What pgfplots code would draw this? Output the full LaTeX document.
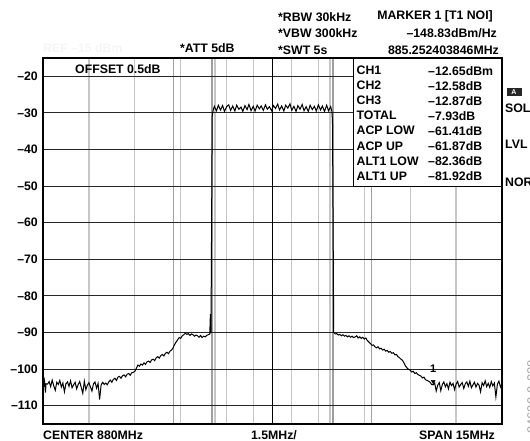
\documentclass[border=0pt]{standalone}
\usepackage{pgfplots}
\pgfplotsset{compat=1.18}
\usepackage{fontspec}
\setmainfont{Liberation Sans}
\begin{document}
\begin{tikzpicture}[x=1pt,y=1pt,every node/.append style={font=\bfseries\fontsize{12.3}{14}\selectfont,inner sep=0pt}]
\useasboundingbox (0pt,0pt) rectangle (530pt,441pt);
\begin{axis}[at={(43pt,17pt)}, anchor=south west, scale only axis,
  width=459pt, height=366pt,
  xmin=-7.5, xmax=7.5, ymin=-115, ymax=-15,
  axis line style={line width=2pt},
  xtick=\empty,
  ytick={-110,-100,-90,-80,-70,-60,-50,-40,-30,-20},
  yticklabels={–110,–100,–90,–80,–70,–60,–50,–40,–30,–20},
  yticklabel style={font=\bfseries\fontsize{12.3}{14}\selectfont,inner sep=0pt,xshift=-5pt},
  major tick length=0pt,
  axis on top, clip=true]
% vertical channel / grid lines
\foreach \v in {-6,-4.5,-3,-1.5,1.5,3,4.5,6,-0.61,0.61,-1.88,1.88}
  {\edef\tmp{\noexpand\draw[gray!45,line width=1.3pt] (axis cs:\v,-115) -- (axis cs:\v,-15);}\tmp}
\foreach \v in {-1.98,1.98,-3.23,3.23}
  {\edef\tmp{\noexpand\draw[gray!75,line width=1.3pt] (axis cs:\v,-115) -- (axis cs:\v,-15);}\tmp}
% horizontal grid
\foreach \h in {-110,-100,-90,-80,-70,-60,-50,-40,-30,-20}
  {\edef\tmp{\noexpand\draw[black!85,line width=1.1pt] (axis cs:-7.5,\h) -- (axis cs:7.5,\h);}\tmp}
\draw[black,line width=1.4pt] (axis cs:0,-115) -- (axis cs:0,-15);
\addplot[black, line width=1pt, mark=none] table {
x y
-7.50 -105.5
-7.45 -103.2
-7.42 -106.4
-7.40 -104.0
-7.35 -104.1
-7.30 -103.4
-7.25 -104.8
-7.20 -103.0
-7.15 -104.5
-7.10 -105.8
-7.05 -103.6
-7.00 -104.2
-6.95 -103.1
-6.90 -104.9
-6.85 -103.8
-6.80 -106.2
-6.75 -104.0
-6.70 -103.5
-6.65 -104.7
-6.60 -103.2
-6.55 -105.1
-6.50 -104.3
-6.45 -103.6
-6.40 -105.4
-6.35 -104.2
-6.30 -103.4
-6.25 -105.0
-6.20 -106.6
-6.15 -103.3
-6.10 -105.6
-6.05 -104.4
-6.00 -103.7
-5.95 -104.9
-5.90 -106.0
-5.85 -104.0
-5.80 -103.5
-5.75 -105.2
-5.70 -103.9
-5.65 -108.3
-5.60 -104.3
-5.55 -103.6
-5.50 -104.2
-5.45 -103.8
-5.40 -104.3
-5.35 -103.5
-5.30 -103.0
-5.25 -103.6
-5.20 -102.8
-5.15 -102.5
-5.10 -103.1
-5.05 -102.2
-5.00 -102.0
-4.95 -102.5
-4.90 -101.8
-4.85 -101.6
-4.80 -102.1
-4.75 -101.4
-4.70 -101.2
-4.65 -101.7
-4.60 -101.0
-4.55 -100.9
-4.50 -100.6
-4.45 -99.8
-4.40 -98.9
-4.35 -99.2
-4.30 -98.6
-4.25 -98.9
-4.20 -98.3
-4.15 -98.7
-4.10 -98.0
-4.05 -97.8
-4.00 -98.2
-3.95 -97.5
-3.90 -97.3
-3.85 -97.7
-3.80 -96.9
-3.75 -96.6
-3.70 -97.0
-3.65 -96.3
-3.60 -96.0
-3.55 -96.4
-3.50 -95.7
-3.45 -95.4
-3.40 -95.8
-3.35 -95.1
-3.30 -94.8
-3.25 -94.2
-3.20 -93.3
-3.15 -92.6
-3.10 -92.0
-3.05 -91.4
-3.00 -91.6
-2.95 -90.9
-2.90 -90.6
-2.85 -90.2
-2.80 -90.5
-2.75 -90.3
-2.70 -90.8
-2.65 -90.4
-2.60 -90.6
-2.55 -91.0
-2.50 -90.7
-2.45 -90.9
-2.40 -91.3
-2.35 -90.8
-2.30 -91.4
-2.25 -91.0
-2.20 -91.2
-2.15 -90.8
-2.10 -90.6
-2.05 -90.4
-2.03 -85.0
-2.01 -90.2
-1.99 -60.0
-1.97 -31.0
-1.94 -29.3
-1.90 -28.2
-1.83 -29.4
-1.77 -27.9
-1.70 -29.2
-1.63 -28.0
-1.57 -29.6
-1.50 -28.3
-1.43 -27.8
-1.37 -29.3
-1.30 -28.1
-1.23 -29.5
-1.17 -27.9
-1.10 -29.0
-1.03 -28.4
-0.97 -29.6
-0.90 -28.0
-0.83 -29.1
-0.77 -27.7
-0.70 -29.4
-0.63 -28.2
-0.57 -29.5
-0.50 -27.9
-0.43 -28.9
-0.37 -28.1
-0.30 -29.3
-0.23 -27.8
-0.17 -29.0
-0.10 -28.3
-0.03 -29.4
0.03 -28.0
0.10 -28.8
0.17 -27.6
0.23 -29.2
0.30 -28.1
0.37 -29.5
0.43 -27.9
0.50 -28.7
0.57 -27.5
0.63 -29.3
0.70 -28.2
0.77 -29.6
0.83 -28.0
0.90 -29.0
0.97 -27.7
1.03 -29.4
1.10 -28.3
1.17 -29.6
1.23 -27.9
1.30 -29.1
1.37 -28.2
1.43 -29.5
1.50 -27.8
1.57 -29.2
1.63 -28.1
1.70 -29.6
1.77 -27.9
1.83 -29.4
1.90 -28.3
1.94 -29.5
1.96 -32.0
1.98 -60.0
2.00 -90.0
2.05 -90.4
2.10 -90.3
2.15 -90.7
2.20 -90.5
2.25 -90.9
2.30 -90.6
2.35 -91.0
2.40 -90.8
2.45 -91.2
2.50 -90.9
2.55 -91.3
2.60 -91.0
2.65 -91.4
2.70 -91.2
2.75 -90.9
2.80 -91.5
2.85 -91.2
2.90 -91.6
2.95 -91.3
3.00 -91.8
3.05 -91.5
3.10 -92.2
3.15 -92.6
3.20 -93.0
3.25 -93.5
3.30 -93.4
3.35 -93.9
3.40 -94.2
3.45 -93.9
3.50 -94.5
3.55 -94.3
3.60 -94.8
3.65 -94.6
3.70 -95.1
3.75 -94.9
3.80 -95.4
3.85 -95.2
3.90 -95.7
3.95 -95.5
4.00 -96.1
4.05 -96.0
4.10 -96.6
4.15 -96.9
4.20 -97.3
4.25 -97.6
4.30 -98.4
4.35 -99.2
4.40 -99.7
4.45 -100.1
4.50 -100.3
4.55 -100.8
4.60 -100.6
4.65 -101.2
4.70 -101.0
4.75 -101.5
4.80 -101.7
4.85 -101.9
4.90 -102.4
4.95 -102.2
5.00 -102.9
5.05 -103.1
5.10 -103.3
5.15 -103.6
5.20 -104.2
5.25 -104.3
5.30 -103.8
5.35 -106.0
5.40 -104.4
5.45 -103.7
5.50 -105.9
5.55 -104.2
5.60 -103.5
5.65 -104.8
5.70 -104.0
5.75 -105.4
5.80 -103.6
5.85 -104.5
5.90 -103.9
5.95 -105.6
6.00 -104.1
6.05 -103.4
6.10 -104.9
6.15 -104.2
6.20 -103.7
6.25 -105.3
6.30 -104.0
6.35 -103.5
6.40 -104.7
6.45 -103.3
6.50 -105.1
6.55 -104.3
6.60 -103.6
6.65 -104.9
6.70 -103.9
6.75 -104.4
6.80 -106.2
6.85 -103.7
6.90 -104.5
6.95 -103.2
7.00 -104.8
7.05 -103.9
7.10 -105.0
7.15 -103.4
7.20 -104.6
7.25 -103.8
7.30 -107.6
7.35 -104.1
7.40 -103.3
7.45 -104.9
7.50 -104.0
};
\addplot[black, mark=triangle*, mark size=2.2pt, only marks, mark options={rotate=180}] coordinates {(5.25,-103.4)};
\node[font=\bfseries\fontsize{11}{12}\selectfont] at (axis cs:5.25,-99.8) {1};
% result box
\draw[fill=white, line width=0.9pt] (axis cs:2.66,-50.1) rectangle (axis cs:7.6,-14);
\end{axis}
% box texts
\foreach \lab/\val/\yy in {CH1/–12.65dBm/370.3, CH2/–12.58dB/355.3, CH3/–12.87dB/340.3, TOTAL/–7.93dB/325.3, ACP LOW/–61.41dB/310.3, ACP UP/–61.87dB/294.8, ALT1 LOW/–82.36dB/279.8, ALT1 UP/–81.92dB/264.8}
  {\node[anchor=west] at (356.5,\yy) {\lab};
   \node[anchor=west] at (428,\yy) {\val};}
% top annotations
\node[anchor=west,text=gray!8] at (43,393) {REF –15 dBm};
\node[anchor=west] at (180,393) {*ATT 5dB};
\node[anchor=west] at (278,424.3) {*RBW 30kHz};
\node[anchor=west] at (278,408) {*VBW 300kHz};
\node[anchor=west] at (278,391) {*SWT 5s};
\node[anchor=east] at (493,424.3) {MARKER 1 [T1 NOI]};
\node[anchor=east] at (497,408) {–148.83dBm/Hz};
\node[anchor=east] at (499,391) {885.252403846MHz};
\node[anchor=west] at (75,372) {OFFSET 0.5dB};
% right side annotations
\fill[black!85] (506.5,345.3) rectangle (521.5,353);
\node[text=white,font=\bfseries\fontsize{7}{8}\selectfont] at (514,349.2) {A};
\node[anchor=west] at (505,333) {SOL};
\node[anchor=west] at (505,296.5) {LVL};
\node[anchor=west] at (505,258.5) {NOR};
\node[rotate=90,text=gray!70,font=\fontsize{13}{14}\selectfont] at (532,44) {04600-0-028};
% bottom annotations
\node[anchor=west] at (43,6) {CENTER 880MHz};
\node at (274,6) {1.5MHz/};
\node[anchor=east] at (495,6) {SPAN 15MHz};
\end{tikzpicture}
\end{document}
